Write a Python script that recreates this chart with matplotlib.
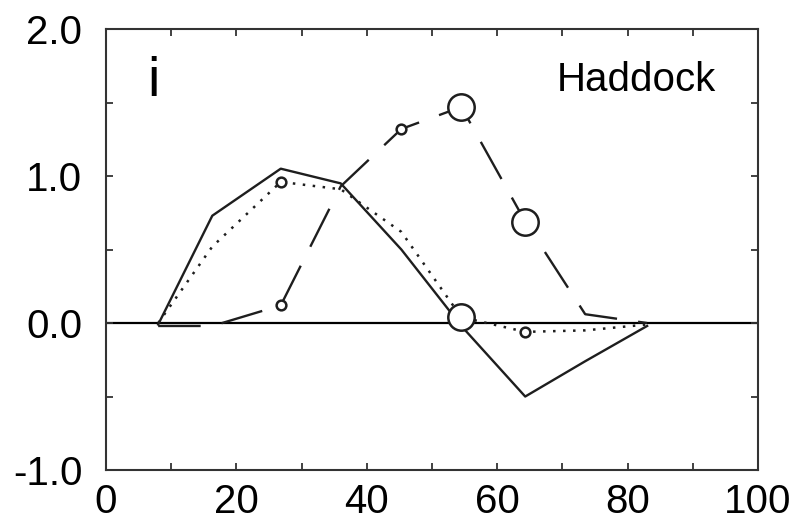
import matplotlib
matplotlib.use("Agg")
import matplotlib.pyplot as plt
from matplotlib.ticker import MultipleLocator, FormatStrFormatter

plt.rcParams['font.family'] = ['Liberation Sans', 'DejaVu Sans']

# length classes (x) shared by the three series
lengths = [8, 16.3, 26.8, 36, 45.3, 54.5, 64.3, 73.5, 83]
solid_vals = [-0.01, 0.73, 1.05, 0.95, 0.50, -0.02, -0.50, -0.26, -0.02]
dotted_vals = [0.0, 0.52, 0.96, 0.91, 0.62, 0.04, -0.06, -0.05, -0.01]
dashed_vals = [-0.02, -0.02, 0.12, 0.93, 1.32, 1.47, 0.69, 0.06, 0.0]

# marked points
dashed_small_x = [26.8, 45.3]
dashed_small_y = [0.12, 1.32]
dashed_big_x = [54.5, 64.3]
dashed_big_y = [1.47, 0.69]
dotted_small_x = [26.8, 64.3]
dotted_small_y = [0.96, -0.06]
dotted_big_x = [54.5]
dotted_big_y = [0.04]


def main():
    fig = plt.figure(figsize=(7.96, 5.24), dpi=100)
    ax = fig.add_axes([0.1332, 0.103, 0.819, 0.8416])

    ink = '#1e1e1e'
    ax.axhline(0, color='black', lw=1.6, zorder=1)
    ax.plot(lengths, solid_vals, color=ink, lw=1.7, zorder=2)
    ax.plot(lengths, dotted_vals, color=ink, lw=1.8, ls=(0, (1, 3)), zorder=2)
    ax.plot(lengths, dashed_vals, color=ink, lw=1.7, ls=(0, (18, 9)), zorder=2)

    ax.plot(dashed_small_x, dashed_small_y, 'o', ms=7, mfc='white', mec=ink, mew=1.8, zorder=3)
    ax.plot(dotted_small_x, dotted_small_y, 'o', ms=7, mfc='white', mec=ink, mew=1.8, zorder=3)
    ax.plot(dashed_big_x, dashed_big_y, 'o', ms=19, mfc='white', mec=ink, mew=1.8, zorder=3)
    ax.plot(dotted_big_x, dotted_big_y, 'o', ms=19, mfc='white', mec=ink, mew=1.8, zorder=3)

    ax.set_xlim(0, 100)
    ax.set_ylim(-1.0, 2.0)
    ax.xaxis.set_major_locator(MultipleLocator(20))
    ax.xaxis.set_minor_locator(MultipleLocator(10))
    ax.yaxis.set_major_locator(MultipleLocator(1.0))
    ax.yaxis.set_minor_locator(MultipleLocator(0.5))
    ax.yaxis.set_major_formatter(FormatStrFormatter('%.1f'))
    ax.tick_params(which='both', direction='in', top=True, right=True,
                   length=5, width=1.3, color='#333333', labelsize=29)
    ax.tick_params(axis='x', pad=9)
    ax.tick_params(axis='y', pad=17)
    for s in ax.spines.values():
        s.set_color('#333333')
        s.set_linewidth(1.5)

    ax.text(7.2, 1.64, 'i', fontsize=40, ha='center', va='center')
    ax.text(69.2, 1.65, 'Haddock', fontsize=29, ha='left', va='center')

    fig.savefig('out.png', dpi=100)


if __name__ == "__main__":
    main()
